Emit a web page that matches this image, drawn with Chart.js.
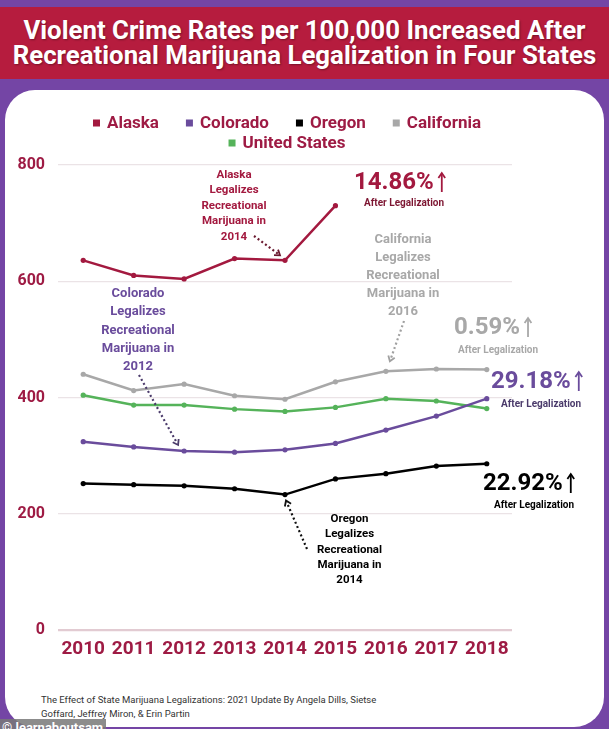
<!DOCTYPE html>
<html lang="en">
<head>
    <meta charset="UTF-8">
    <title>Violent Crime Rates</title>
    <script src="https://cdn.jsdelivr.net/npm/chart.js"></script>
    <style>
        body {
            margin: 0;
            width: 609px;
            height: 729px;
            overflow: hidden;
            background-color: #7445a5;
            font-family: Roboto, Arial, sans-serif;
            position: relative;
        }

        .title {
            position: absolute;
            top: 7px;
            left: 0;
            width: 609px;
            height: 72px;
            background-color: #b61c3e;
            color: #fff;
            font-weight: bold;
            font-size: 25.8px;
            line-height: 25px;
            text-align: center;
            padding-top: 11px;
            box-sizing: border-box;
            text-shadow: 1px 1px 2px rgba(0, 0, 0, 0.35);
        }

        .card {
            position: absolute;
            top: 90px;
            left: 5px;
            width: 599px;
            height: 637px;
            background-color: #fff;
            border-radius: 30px;
        }

        .chart-box {
            position: absolute;
            top: 0;
            left: 0;
            width: 599px;
            height: 590px;
        }

        .source {
            position: absolute;
            left: 36px;
            top: 603px;
            font-size: 9.5px;
            line-height: 14px;
            color: #333;
        }

        .mark {
            position: absolute;
            left: 0;
            top: 719px;
            width: 106px;
            height: 12px;
            overflow: hidden;
            white-space: nowrap;
            background-color: rgba(120, 120, 120, 0.85);
            color: #fff;
            font-size: 13px;
            line-height: 17px;
            font-weight: bold;
            padding-left: 2px;
            box-sizing: border-box;
        }
    </style>
</head>
<body>
    <div class="title">Violent Crime Rates per 100,000 Increased After<br>Recreational Marijuana Legalization in Four States</div>
    <div class="card">
        <div class="chart-box"><canvas id="crimeChart"></canvas></div>
        <div class="source">The Effect of State Marijuana Legalizations: 2021 Update By Angela Dills, Sietse<br>Goffard, Jeffrey Miron, &amp; Erin Partin</div>
    </div>
    <div class="mark">© learnaboutsam</div>

    <script>
        // years on the x-axis
        const years = ['2010', '2011', '2012', '2013', '2014', '2015', '2016', '2017', '2018'];

        // violent crimes per 100,000
        const alaska     = [636, 610, 604, 639, 636, 730, null, null, null];
        const colorado   = [324, 315, 308, 306, 310, 321, 344, 368, 398];
        const oregon     = [252, 250, 248, 243, 233, 260, 269, 282, 286];
        const california = [440, 412, 423, 403, 397, 427, 445, 449, 448];
        const usa        = [404, 387, 387, 380, 376, 383, 398, 394, 381];

        const yTicks = [0, 200, 400, 600, 800];

        const crimson = '#9e1b44';
        const colors = {
            alaska: '#a3193f',
            colorado: '#6a4c9c',
            oregon: '#000000',
            california: '#a8a8a8',
            usa: '#55b35a'
        };

        function series(label, values, color) {
            return {
                label: label,
                data: values,
                borderColor: color,
                backgroundColor: color,
                borderWidth: 2.5,
                pointRadius: 2.6,
                pointBorderWidth: 0,
                tension: 0,
                fill: false
            };
        }

        // legend drawn by hand: two centred rows
        const legendPlugin = {
            id: 'rowLegend',
            afterDraw(chart) {
                const ctx = chart.ctx;
                const rows = [[0, 1, 2, 3], [4]];
                const rowY = [33, 53];
                const mid = (chart.chartArea.left + chart.chartArea.right) / 2 + 2;
                ctx.save();
                ctx.font = 'bold 17px Roboto';
                ctx.textBaseline = 'middle';
                rows.forEach((row, r) => {
                    const items = row.map(i => chart.data.datasets[i]);
                    const widths = items.map(d => 7 + 7 + ctx.measureText(d.label).width);
                    const total = widths.reduce((a, b) => a + b, 0) + 27 * (items.length - 1);
                    let x = mid - total / 2;
                    items.forEach((d, k) => {
                        ctx.fillStyle = d.borderColor;
                        ctx.fillRect(x, rowY[r] - 3.5, 7, 7);
                        ctx.fillStyle = crimson;
                        ctx.fillText(d.label, x + 14, rowY[r] + 1);
                        x += widths[k] + 27;
                    });
                });
                ctx.restore();
            }
        };

        // callout text blocks (canvas pixels)
        const notes = [
            { lines: ['Alaska', 'Legalizes', 'Recreational', 'Marijuana in', '2014'], x: 229, y: 85, step: 15.5, size: 11.5, color: '#a3193f' },
            { lines: ['California', 'Legalizes', 'Recreational', 'Marijuana in', '2016'], x: 398, y: 149.5, step: 18, size: 13, color: '#a8a8a8' },
            { lines: ['Colorado', 'Legalizes', 'Recreational', 'Marijuana in', '2012'], x: 133, y: 204, step: 18.2, size: 13, color: '#6a4c9c' },
            { lines: ['Oregon', 'Legalizes', 'Recreational', 'Marijuana in', '2014'], x: 344.5, y: 429, step: 15.4, size: 11.5, color: '#000' }
        ];

        const changes = [
            { pct: '14.86%', x: 349, y: 93, color: '#a3193f', subX: 359, subY: 113, subColor: '#7d1632' },
            { pct: '0.59%', x: 449, y: 238, color: '#a8a8a8', subX: 453, subY: 260, subColor: '#a8a8a8' },
            { pct: '29.18%', x: 486, y: 292, color: '#6a4c9c', subX: 496, subY: 314, subColor: '#4b3b6b' },
            { pct: '22.92%', x: 478, y: 394, color: '#000', subX: 489, subY: 415, subColor: '#000' }
        ];

        // dotted arrows: start pixel, target data point, end offset from it
        const arrows = [
            { from: [249, 146], series: 0, index: 4, off: [-5, -5], color: '#6b1a30' },
            { from: [399, 231], series: 3, index: 6, off: [4, -10], color: '#a0a0a0' },
            { from: [134, 285], series: 1, index: 2, off: [-6, -6], color: '#4b3b6b' },
            { from: [302, 459], series: 2, index: 4, off: [1, 6], color: '#111' }
        ];

        function chevron(ctx, x, y, angle, len) {
            ctx.beginPath();
            ctx.moveTo(x + len * Math.cos(angle + Math.PI - 0.6), y + len * Math.sin(angle + Math.PI - 0.6));
            ctx.lineTo(x, y);
            ctx.lineTo(x + len * Math.cos(angle + Math.PI + 0.6), y + len * Math.sin(angle + Math.PI + 0.6));
            ctx.stroke();
        }

        const notesPlugin = {
            id: 'notes',
            afterDraw(chart) {
                const ctx = chart.ctx;
                const xs = chart.scales.x;
                const ys = chart.scales.y;
                ctx.save();
                ctx.textAlign = 'center';
                ctx.textBaseline = 'middle';
                notes.forEach(n => {
                    ctx.font = 'bold ' + n.size + 'px Roboto';
                    ctx.fillStyle = n.color;
                    n.lines.forEach((t, i) => ctx.fillText(t, n.x, n.y + i * n.step));
                });

                ctx.textAlign = 'left';
                changes.forEach(c => {
                    ctx.font = 'bold 24px Roboto';
                    ctx.fillStyle = c.color;
                    ctx.fillText(c.pct, c.x, c.y);
                    const ax = c.x + ctx.measureText(c.pct).width + 8;
                    ctx.strokeStyle = c.color;
                    ctx.lineWidth = 1.8;
                    ctx.setLineDash([]);
                    ctx.beginPath();
                    ctx.moveTo(ax, c.y + 9);
                    ctx.lineTo(ax, c.y - 10);
                    ctx.stroke();
                    chevron(ctx, ax, c.y - 10, -Math.PI / 2, 6);
                    ctx.font = 'bold 10px Roboto';
                    ctx.fillStyle = c.subColor;
                    ctx.fillText('After Legalization', c.subX, c.subY);
                });

                arrows.forEach(a => {
                    const v = chart.data.datasets[a.series].data[a.index];
                    const ex = xs.getPixelForValue(a.index) + a.off[0];
                    const ey = ys.getPixelForValue(v) + a.off[1];
                    const angle = Math.atan2(ey - a.from[1], ex - a.from[0]);
                    ctx.strokeStyle = a.color;
                    ctx.lineWidth = 2.2;
                    ctx.setLineDash([2, 2.6]);
                    ctx.beginPath();
                    ctx.moveTo(a.from[0], a.from[1]);
                    ctx.lineTo(ex - 2 * Math.cos(angle), ey - 2 * Math.sin(angle));
                    ctx.stroke();
                    ctx.setLineDash([]);
                    ctx.lineWidth = 1.8;
                    chevron(ctx, ex, ey, angle, 6);
                });
                ctx.restore();
            }
        };

        const ctx = document.getElementById('crimeChart').getContext('2d');

        new Chart(ctx, {
            type: 'line',
            data: {
                labels: years,
                datasets: [
                    series('Alaska', alaska, colors.alaska),
                    series('Colorado', colorado, colors.colorado),
                    series('Oregon', oregon, colors.oregon),
                    series('California', california, colors.california),
                    series('United States', usa, colors.usa)
                ]
            },
            options: {
                responsive: true,
                maintainAspectRatio: false,
                animation: false,
                layout: {
                    padding: { top: 75, right: 92, bottom: 10, left: 0 }
                },
                plugins: {
                    legend: { display: false },
                    tooltip: { enabled: false }
                },
                scales: {
                    x: {
                        offset: true,
                        grid: { display: false },
                        border: { display: false },
                        ticks: {
                            color: crimson,
                            padding: 0,
                            font: { family: 'Roboto', size: 19, weight: 'bold' }
                        },
                        afterFit(scale) { scale.height = 40; }
                    },
                    y: {
                        min: 0,
                        max: 800,
                        afterBuildTicks(scale) {
                            scale.ticks = yTicks.map(v => ({ value: v }));
                        },
                        grid: {
                            drawTicks: false,
                            color: c => c.tick && c.tick.value === 0 ? '#e2cbd2' : '#ebe3e6',
                            lineWidth: c => c.tick && c.tick.value === 0 ? 2.2 : 1.2
                        },
                        border: { display: false },
                        ticks: {
                            color: crimson,
                            padding: 13,
                            font: { family: 'Roboto', size: 16, weight: 'bold' }
                        },
                        afterFit(scale) { scale.width = 53; }
                    }
                }
            },
            plugins: [legendPlugin, notesPlugin]
        });
    </script>
</body>
</html>
